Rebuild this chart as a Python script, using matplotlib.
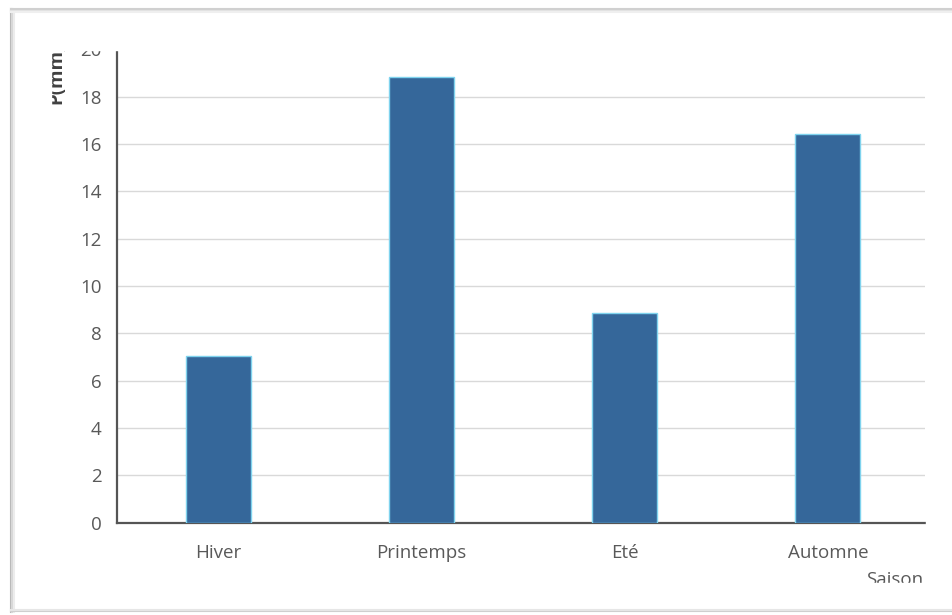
import matplotlib
matplotlib.use('Agg')
import matplotlib.pyplot as plt
from matplotlib.patches import Rectangle
from matplotlib.lines import Line2D

saisons = ['Hiver', 'Printemps', 'Eté', 'Automne']
pluie = [7.05, 18.85, 8.85, 16.42]
yticks = [0, 2, 4, 6, 8, 10, 12, 14, 16, 18, 20]

W, H = 953, 615
plt.rcParams['font.family'] = ['Open Sans', 'DejaVu Sans']


def fx(x):
    return x / W


def fy(y):
    return 1 - y / H


fig = plt.figure(figsize=(W / 100, H / 100), dpi=100)
fig.patch.set_facecolor('white')

ax = fig.add_axes([fx(117), fy(522.7), fx(925) - fx(117), fy(49.3) - fy(522.7)])
ax.bar(range(len(saisons)), pluie, width=0.32, color='#35679a',
       edgecolor='#7fd3ee', linewidth=1.0, zorder=3)
ax.set_xlim(-0.5, 3.478)
ax.set_ylim(0, 20)
ax.set_yticks(yticks)
ax.set_xticks(range(len(saisons)))
ax.set_xticklabels(saisons)
ax.grid(axis='y', color='#d9d9d9', linewidth=1.0, zorder=0)
ax.set_axisbelow(True)
for s in ['top', 'right']:
    ax.spines[s].set_visible(False)
for s in ['left', 'bottom']:
    ax.spines[s].set_color('#555555')
    ax.spines[s].set_linewidth(1.6)
ax.tick_params(length=0, labelsize=13.5, labelcolor='#595959', pad=11)
ax.tick_params(axis='x', pad=15)

# axis titles (partly cut off by the screenshot)
fig.text(fx(56), fy(104), 'P(mm)', rotation=90, ha='center', va='bottom',
         fontsize=13.5, color='#404040', fontweight='bold')
fig.text(fx(866), fy(585), 'Saison', ha='left', va='baseline',
         fontsize=13.5, color='#595959')

# screenshot cropping
fig.patches.append(Rectangle((fx(14), fy(49.5)), fx(950) - fx(14), fy(12) - fy(49.5),
                             transform=fig.transFigure, color='white', zorder=5))
fig.patches.append(Rectangle((fx(14), fy(200)), fx(51) - fx(14), fy(12) - fy(200),
                             transform=fig.transFigure, color='white', zorder=5))
fig.patches.append(Rectangle((fx(14), fy(608)), fx(950) - fx(14), fy(583) - fy(608),
                             transform=fig.transFigure, color='white', zorder=5))
fig.patches.append(Rectangle((fx(926), fy(608)), fx(953) - fx(926), fy(12) - fy(608),
                             transform=fig.transFigure, color='white', zorder=5))

# frame with soft shadow
for off, c in [(0, '#b8b8b8'), (1.5, '#d8d8d8'), (3, '#ececec')]:
    fig.lines.append(Line2D([fx(11 + off)] * 2, [fy(9), fy(612)],
                            transform=fig.transFigure, color=c, lw=1.5, zorder=6))
for off, c in [(0, '#d0d0d0'), (1.5, '#e2e2e2'), (3, '#efefef')]:
    fig.lines.append(Line2D([fx(11), fx(952)], [fy(9 + off)] * 2,
                            transform=fig.transFigure, color=c, lw=1.5, zorder=6))
for off, c in [(0, '#cfcfcf'), (1.5, '#e6e6e6')]:
    fig.lines.append(Line2D([fx(11), fx(953)], [fy(611 - off)] * 2,
                            transform=fig.transFigure, color=c, lw=1.5, zorder=6))

fig.savefig('out.png', dpi=100)
